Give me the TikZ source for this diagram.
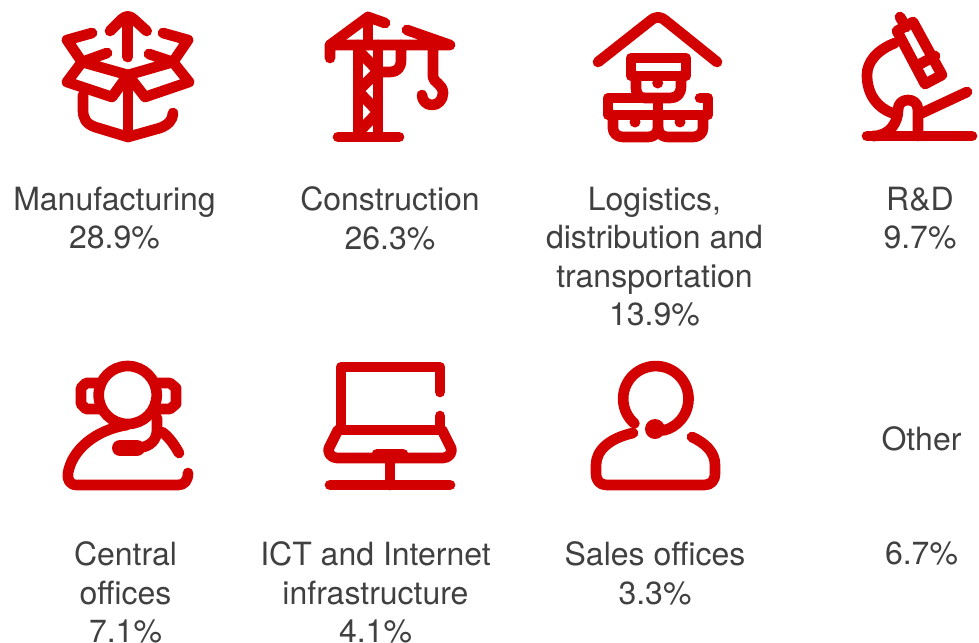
\documentclass[tikz,border=0pt]{standalone}
\usepackage{fontspec}
\setmainfont{TeX Gyre Heros}
\definecolor{iconred}{HTML}{D20000}
\definecolor{labelgray}{HTML}{404040}
\tikzset{
  icon/.style={draw=iconred,line width=8pt,line cap=round,line join=round,fill=none},
  fat icon/.style={icon,line width=12pt},
  dot/.style={fill=iconred,draw=none},
  label text/.style={text=labelgray,align=center,inner sep=0pt,outer sep=0pt,anchor=north,
    font=\fontsize{24pt}{28.9pt}\selectfont},
}
\begin{document}
\begin{tikzpicture}[x=0.75pt,y=-0.75pt]
\useasboundingbox (0,0) rectangle (979,643);
\clip (0,0) rectangle (979,643);
% --- Manufacturing: open box
\draw[icon] (127.7,57) -- (127.7,18);
\draw[icon] (110,31) -- (122,19) .. controls (126,15.5) and (129.5,15.5) .. (133.5,19) -- (146.7,31);
\draw[icon] (92,33) -- (67,40) -- (82,62) -- (67,82) -- (112,97) -- (128,75) -- (145,97) -- (189,82) -- (173,62) -- (188,40) -- (163,33);
\draw[icon] (107,53) -- (82,62) -- (128,75) -- (173,62) -- (149,54);
\draw[icon] (128,75) -- (128,137);
\draw[icon] (83,95) -- (83,110) .. controls (83,118) and (86,124) .. (95,127) -- (128,137) -- (160,128) .. controls (168,125) and (173,120) .. (173,113);
% --- Construction: tower crane
\draw[icon] (330,58) -- (330,45) -- (450,45) -- (407,30);
\draw[icon] (330,45) -- (368,17) -- (385,23);
\draw[icon] (368,17) -- (368,45);
\draw[icon] (358,45) -- (358,134);
\draw[icon] (378,45) -- (378,134);
\draw[icon] (338,137) -- (399,137);
\begin{scope}
\clip (354,45) rectangle (382,134);
\draw[icon,line join=miter] (358,50) -- (378,71) -- (358,91) -- (378,112) -- (358,133);
\end{scope}
\draw[icon] (401,45) -- (401,60) .. controls (401,68) and (397,72) .. (390,72) -- (378,72);
\draw[icon] (433,45) -- (433,77) .. controls (433,82) and (443,84) .. (443,93) .. controls (443,100) and (438,105) .. (432,105) .. controls (426,105) and (422,100) .. (422,95);
% --- Logistics: boxes under a roof
\draw[icon] (598,62) -- (650,21) .. controls (656,16) and (660,16) .. (666,21) -- (717,62);
\draw[icon] (631,58) rectangle (686,76);
\draw[icon] (636,76) -- (636,88) .. controls (636,94) and (639,98) .. (645,98) -- (670,98) .. controls (677,98) and (681,94) .. (681,86) -- (681,76);
\fill[dot] (657.7,83) circle [radius=5.5];
\draw[icon] (608,98) rectangle (658,115);
\draw[icon] (613,115) -- (613,128) .. controls (613,133) and (617,137) .. (623,137) -- (648,137) .. controls (654,137) and (658,133) .. (658,128) -- (658,115);
\fill[dot] (635,122) circle [radius=5.5];
\draw[icon] (658,115) -- (708,115) -- (708,98) -- (700,98);
\draw[icon] (658,128) .. controls (658,133) and (662,137) .. (668,137) -- (693,137) .. controls (699,137) and (703,133) .. (703,128) -- (703,115);
\fill[dot] (680,122) circle [radius=5.5];
% --- R&D: microscope
\draw[icon] (897,31) -- (913,22) -- (942,75) -- (925,84) -- cycle;
\draw[icon] (920,64) -- (935,56);
\draw[icon] (900,17) -- (906,27);
\draw[icon] (895,43) .. controls (877,50) and (867,62) .. (867,75) .. controls (867,95) and (878,108) .. (892,113);
\draw[icon] (922,113) -- (967,92);
\draw[icon] (867,136) -- (972,136);
\draw[icon] (918,136) -- (918,110) .. controls (918,103) and (913,100) .. (908,100) .. controls (902,100) and (898,104) .. (898,110) .. controls (898,122) and (890,136) .. (873,136);
% --- Central offices: headset operator
\draw[icon] (127.7,395) circle [radius=29];
\draw[icon] (98,383) -- (86,383) -- (81,388) -- (81,404) -- (86,409) -- (101,409);
\draw[icon] (157,383) -- (170,383) -- (176,388) -- (176,404) -- (170,409) -- (157,409);
\draw[icon] (127,425) .. controls (95,430) and (72,450) .. (68,473) .. controls (67,480) and (70,485) .. (77,485) -- (178,485) .. controls (184,485) and (188,481) .. (188,473);
\draw[icon] (157,418) -- (157,430) .. controls (157,440) and (150,447) .. (138,448);
\draw[fat icon] (120,448) -- (137,448);
\draw[icon] (162,432) .. controls (168,436) and (174,444) .. (179,453);
% --- ICT: laptop
\draw[icon] (440,392) -- (440,367) -- (341,367) -- (341,430) -- (440,430) -- (440,416);
\draw[icon] (338,430) -- (330,446) .. controls (326,452) and (331,458) .. (337,458) -- (443,458) .. controls (449,458) and (454,452) .. (450,446) -- (442,430);
\draw[icon] (377,454) -- (403,454);
\draw[icon] (390,458) -- (390,485);
\draw[icon] (330,485) -- (450,485);
% --- Sales offices: headset person
\draw[icon] (634.4,423.4) arc [start angle=229,end angle=-75,radius=24.5pt] -- (655,429);
\fill[dot] (655,429) circle [radius=10];
\draw[icon] (633,433) .. controls (610,438) and (596,450) .. (596,465) -- (596,473) .. controls (596,481) and (600,485) .. (607,485) -- (704,485) .. controls (711,485) and (715,481) .. (715,473) -- (715,465) .. controls (715,452) and (705,443) .. (692,437);
% --- Labels
\node[label text] (manufacturing) at (114.5,187) {Manufacturing\\28.9\%};
\node[label text] (construction) at (390,187) {Construction\\26.3\%};
\node[label text] (logistics) at (654.5,187) {Logistics,\\distribution and\\transportation\\13.9\%};
\node[label text] (rd) at (920,187) {R\&D\\9.7\%};
\node[label text] (central) at (125.5,542) {Central\\offices\\7.1\%};
\node[label text] (ict) at (375.5,542) {ICT and Internet\\infrastructure\\4.1\%};
\node[label text] (sales) at (655,542) {Sales offices\\3.3\%};
\node[label text] (other) at (921.5,427) {Other};
\node[label text] (otherpct) at (921.5,542) {6.7\%};
\end{tikzpicture}
\end{document}
